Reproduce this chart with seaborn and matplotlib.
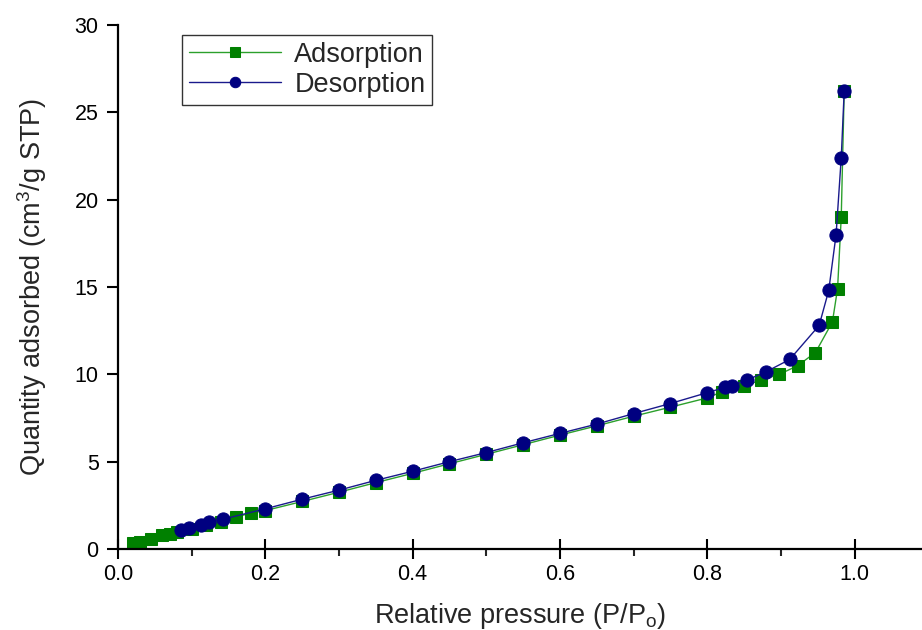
import matplotlib
matplotlib.use("Agg")
import matplotlib.pyplot as plt
import seaborn as sns
import pandas as pd
from matplotlib.ticker import MultipleLocator

# Nitrogen isotherm: relative pressure vs quantity adsorbed (cm3/g STP)
ads_p = [0.021, 0.03, 0.045, 0.06, 0.07, 0.08, 0.10, 0.12, 0.14, 0.16, 0.18, 0.20,
         0.25, 0.30, 0.35, 0.40, 0.45, 0.50, 0.55, 0.60, 0.65, 0.70, 0.75, 0.80,
         0.82, 0.85, 0.873, 0.898, 0.923, 0.947, 0.970, 0.977, 0.982, 0.986]
ads_q = [0.33, 0.42, 0.60, 0.78, 0.88, 1.00, 1.17, 1.35, 1.55, 1.83, 2.05, 2.20,
         2.72, 3.25, 3.80, 4.33, 4.88, 5.42, 5.97, 6.52, 7.05, 7.60, 8.12, 8.65,
         9.00, 9.33, 9.67, 10.00, 10.50, 11.25, 13.00, 14.90, 19.00, 26.20]

des_p = [0.986, 0.982, 0.975, 0.965, 0.952, 0.912, 0.880, 0.854, 0.833, 0.824,
         0.80, 0.75, 0.70, 0.65, 0.60, 0.55, 0.50, 0.45, 0.40, 0.35, 0.30, 0.25,
         0.20, 0.142, 0.124, 0.113, 0.097, 0.086]
des_q = [26.2, 22.4, 18.0, 14.8, 12.8, 10.85, 10.15, 9.67, 9.35, 9.25,
         8.95, 8.33, 7.75, 7.15, 6.62, 6.08, 5.52, 5.00, 4.45, 3.93, 3.37, 2.85,
         2.30, 1.70, 1.53, 1.37, 1.18, 1.09]

x_ticks = [0.0, 0.2, 0.4, 0.6, 0.8, 1.0]
y_ticks = [0, 5, 10, 15, 20, 25, 30]

sns.set_style("ticks")
plt.rcParams["font.family"] = ["Liberation Sans", "DejaVu Sans"]
plt.rcParams["mathtext.default"] = "regular"

ads = pd.DataFrame({"p": ads_p, "q": ads_q})
des = pd.DataFrame({"p": des_p, "q": des_q})

fig = plt.figure(figsize=(9.22, 6.30), dpi=100)
ax = fig.add_axes([118 / 922, 81 / 630, 804 / 922, 524 / 630])

sns.lineplot(data=ads, x="p", y="q", sort=False, ax=ax, color="#2ca02c",
             linewidth=1.0, marker="s", markersize=9,
             markerfacecolor="#008000", markeredgecolor="#008000",
             label="Adsorption")
sns.lineplot(data=des, x="p", y="q", sort=False, ax=ax, color="#1a1a8c",
             linewidth=1.0, marker="o", markersize=9.5,
             markerfacecolor="#000080", markeredgecolor="#000080",
             label="Desorption")

ax.set_xlim(0, 804 / 736.5)
ax.set_ylim(0, 30)
ax.set_xticks(x_ticks)
ax.set_yticks(y_ticks)
ax.set_xticklabels([f"{t:.1f}" for t in x_ticks])
ax.xaxis.set_minor_locator(MultipleLocator(0.1))

sns.despine(ax=ax)
for s in ("left", "bottom"):
    ax.spines[s].set_linewidth(1.6)
    ax.spines[s].set_color("black")

ax.tick_params(axis="x", which="major", direction="inout", length=14, width=1.5,
               labelsize=15.5, pad=4, colors="black")
ax.tick_params(axis="x", which="minor", direction="out", length=5, width=1.5)
ax.tick_params(axis="y", which="major", direction="out", length=8, width=1.5,
               labelsize=15.5, pad=6, colors="black")

ax.set_xlabel("Relative pressure (P/P$_o$)", fontsize=19.5, labelpad=11)
ax.set_ylabel("Quantity adsorbed (cm$^3$/g STP)", fontsize=19.5, labelpad=18)

leg = ax.legend(loc="upper left", bbox_to_anchor=(0.0796, 0.981), fontsize=19.5,
                frameon=True, fancybox=False, edgecolor="black",
                handlelength=3.4, borderpad=0.25, labelspacing=0.15,
                handletextpad=0.5, borderaxespad=0)
leg.get_frame().set_linewidth(1.0)
for h in leg.legend_handles:
    h.set_markersize(7.5)

fig.savefig("out.png", dpi=100)
